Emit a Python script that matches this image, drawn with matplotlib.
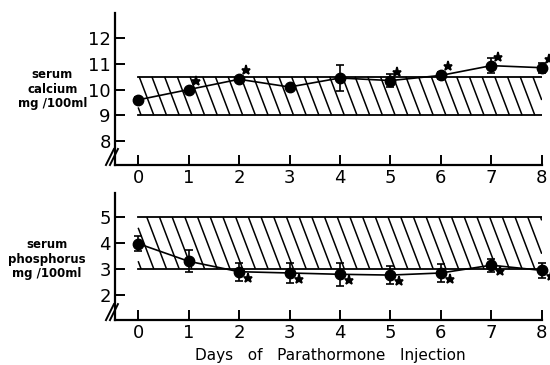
import numpy as np
import matplotlib
matplotlib.use("Agg")
import matplotlib.pyplot as plt
import matplotlib.transforms as mtransforms
from matplotlib.collections import LineCollection

plt.rcParams['font.family'] = ['DejaVu Sans']

days = [0, 1, 2, 3, 4, 5, 6, 7, 8]

ca_mean = [9.6, 10.0, 10.4, 10.1, 10.45, 10.35, 10.55, 10.93, 10.85]
ca_err = [0.1, 0.05, 0.1, 0.05, 0.5, 0.25, 0.12, 0.3, 0.2]
ca_sig = [False, True, True, False, False, True, True, True, True]
ca_normal = (9.0, 10.5)
ca_ticks = [8, 9, 10, 11, 12]

p_mean = [3.98, 3.3, 2.9, 2.85, 2.8, 2.77, 2.85, 3.15, 2.95]
p_err = [0.3, 0.42, 0.35, 0.4, 0.45, 0.35, 0.33, 0.25, 0.3]
p_sig = [False, False, True, True, True, True, True, True, True]
p_normal = (3.0, 5.0)
p_ticks = [2, 3, 4, 5]

xlabel = "Days   of   Parathormone   Injection"
ca_label = "serum\ncalcium\nmg /100ml"
p_label = "serum\nphosphorus\nmg /100ml"

fig = plt.figure(figsize=(5.5, 3.65), dpi=100)
ax1 = fig.add_axes([0.209, 0.548, 0.776, 0.416])
ax2 = fig.add_axes([0.209, 0.123, 0.776, 0.348])


def hatch_band(ax, x0, x1, y0, y1, spacing=12.7, lean=0.38, lw=1.1):
    T = ax.transData
    px0, py0 = T.transform((x0, y0))
    px1, py1 = T.transform((x1, y1))
    h = py1 - py0
    dx = lean * h
    segs = []
    inv = T.inverted()
    for xt in np.arange(px0 - dx + 3, px1, spacing):
        t0 = max(0.0, (px0 - xt) / dx)
        t1 = min(1.0, (px1 - xt) / dx)
        if t1 <= t0:
            continue
        a = (xt + dx * t0, py1 - h * t0)
        b = (xt + dx * t1, py1 - h * t1)
        segs.append([inv.transform(a), inv.transform(b)])
    ax.add_collection(LineCollection(segs, colors='black', linewidths=lw, zorder=1))
    ax.plot([x0, x1], [y0, y0], color='black', lw=1.3, zorder=1)
    ax.plot([x0, x1], [y1, y1], color='black', lw=1.3, zorder=1)


def style(ax, ylim, ticks):
    ax.set_xlim(-0.46, 8.0)
    ax.set_ylim(*ylim)
    for s in ['top', 'right']:
        ax.spines[s].set_visible(False)
    for s in ['left', 'bottom']:
        ax.spines[s].set_linewidth(1.6)
    ax.set_xticks(days)
    ax.set_xticklabels([str(d) for d in days])
    ax.set_yticks(ticks)
    ax.tick_params(direction='in', length=7, width=1.4, labelsize=13, pad=3)
    for dxp in (-3, 1):
        o = mtransforms.offset_copy(ax.transAxes, fig=fig, x=dxp, y=0, units='dots')
        ax.plot([-6 / 427, 2 / 427], [0.0, 16 / ax.bbox.height], transform=o,
                color='black', lw=1.4, clip_on=False, zorder=5)


def draw(ax, mean, err, sig, normal, sig_dx, sig_dy):
    hatch_band(ax, days[0], days[-1], normal[0], normal[1])
    ax.errorbar(days, mean, yerr=err, fmt='-o', color='black', ms=7.5, lw=1.2,
                elinewidth=1.2, capsize=3, capthick=1.2, zorder=3, clip_on=False)
    sx = [d for d, s in zip(days, sig) if s]
    sy = [m for m, s in zip(mean, sig) if s]
    tr = mtransforms.offset_copy(ax.transData, fig=fig, x=sig_dx, y=sig_dy, units='dots')
    ax.plot(sx, sy, linestyle='none', marker='*', ms=6.5, mew=1.2, color='black',
            transform=tr, clip_on=False, zorder=4)


style(ax1, (7.07, 12.97), ca_ticks)
style(ax2, (1.04, 5.92), p_ticks)
draw(ax1, ca_mean, ca_err, ca_sig, ca_normal, 7, 9)
draw(ax2, p_mean, p_err, p_sig, p_normal, 9, -6)

fig.text(0.095, 0.755, ca_label, ha='center', va='center', fontsize=8.5,
         fontweight='bold', linespacing=1.15)
fig.text(0.085, 0.29, p_label, ha='center', va='center', fontsize=8.5,
         fontweight='bold', linespacing=1.15)
fig.text(0.60, 0.027, xlabel, ha='center', va='center', fontsize=11)

fig.savefig('out.png', dpi=100)
